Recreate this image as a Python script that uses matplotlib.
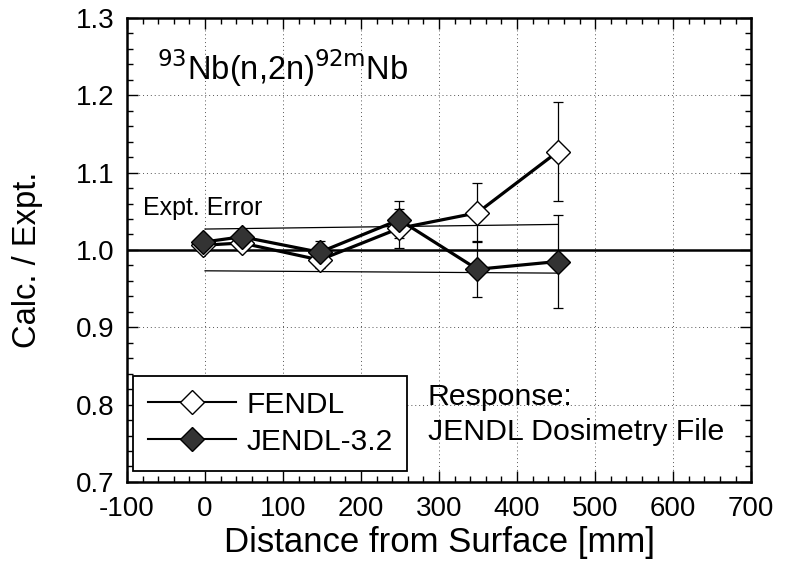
import matplotlib.pyplot as plt
from matplotlib.lines import Line2D
from matplotlib.ticker import MultipleLocator

plt.rcParams['font.family'] = ['Liberation Sans', 'DejaVu Sans']
plt.rcParams['axes.unicode_minus'] = False

# detector positions [mm]
dist = [-3, 47, 147, 249, 349, 452]
fendl = [1.006, 1.009, 0.987, 1.028, 1.048, 1.127]
fendl_err = [0.008, 0.008, 0.010, 0.025, 0.038, 0.064]
jendl = [1.010, 1.017, 0.997, 1.039, 0.975, 0.985]
jendl_err = [0.008, 0.008, 0.014, 0.024, 0.036, 0.060]

# experimental error band
band_x = [0, 452]
band_upper = [1.027, 1.033]
band_lower = [0.973, 0.970]

fig = plt.figure(figsize=(7.89, 5.61), dpi=100)
ax = fig.add_axes([0.161, 0.141, 0.791, 0.827])

ax.axhline(1.0, color='black', lw=1.8, zorder=2)
ax.plot(band_x, band_upper, color='black', lw=0.9, zorder=2)
ax.plot(band_x, band_lower, color='black', lw=0.9, zorder=2)

ax.errorbar(dist, fendl, yerr=fendl_err, fmt='none', ecolor='black',
            elinewidth=0.9, capsize=3.5, capthick=0.9, zorder=3)
ax.errorbar(dist, jendl, yerr=jendl_err, fmt='none', ecolor='black',
            elinewidth=0.9, capsize=3.5, capthick=0.9, zorder=3)
ax.plot(dist, fendl, color='black', lw=2.3, marker='D', markersize=12.5,
        markerfacecolor='white', markeredgecolor='black', markeredgewidth=1.0, zorder=4)
ax.plot(dist, jendl, color='black', lw=2.3, marker='D', markersize=12.5,
        markerfacecolor='#333333', markeredgecolor='black', markeredgewidth=1.0, zorder=5)

ax.set_xlim(-100, 700)
ax.set_ylim(0.7, 1.3)
ax.xaxis.set_major_locator(MultipleLocator(100))
ax.xaxis.set_minor_locator(MultipleLocator(20))
ax.yaxis.set_major_locator(MultipleLocator(0.1))
ax.yaxis.set_minor_locator(MultipleLocator(0.02))
ax.yaxis.set_major_formatter(lambda v, p: f'{v:.1f}')
ax.tick_params(which='both', direction='in', top=True, right=True, labelsize=20, width=1.0)
ax.tick_params(which='major', length=8)
ax.tick_params(axis='x', which='major', pad=10)
ax.tick_params(axis='y', which='major', pad=9)
ax.tick_params(which='minor', length=4)
for s in ax.spines.values():
    s.set_linewidth(1.8)
ax.grid(True, which='major', color='#555555', lw=0.7, linestyle=(0, (1, 3)))

ax.set_xlabel('Distance from Surface [mm]', fontsize=25)
ax.xaxis.set_label_coords(0.5, -0.094)
ax.set_ylabel('Calc. / Expt.', fontsize=23.5, va='center')
ax.yaxis.set_label_coords(-0.159, 0.478)

ax.text(0.048, 0.892, r'$^{\mathrm{93}}$Nb(n,2n)$^{\mathrm{92m}}$Nb', transform=ax.transAxes,
        fontsize=23.5, va='center')
ax.text(0.026, 0.59, 'Expt. Error', transform=ax.transAxes, fontsize=18, va='center')
ax.text(0.482, 0.145, 'Response:\nJENDL Dosimetry File', transform=ax.transAxes,
        fontsize=21.8, va='center', linespacing=1.3)

handles = [
    Line2D([], [], color='black', lw=1.5, marker='D', markersize=12.5,
           markerfacecolor='white', markeredgecolor='black'),
    Line2D([], [], color='black', lw=1.5, marker='D', markersize=12.5,
           markerfacecolor='#333333', markeredgecolor='black'),
]
leg = ax.legend(handles, ['FENDL', 'JENDL-3.2'], loc='lower left',
                bbox_to_anchor=(0.01, 0.024), borderaxespad=0, fontsize=21.5,
                handlelength=2.95, fancybox=False, framealpha=1, edgecolor='black',
                borderpad=0.5, labelspacing=0.3, handletextpad=0.33)
leg.get_frame().set_linewidth(1.3)

fig.savefig('out.png', dpi=100)
